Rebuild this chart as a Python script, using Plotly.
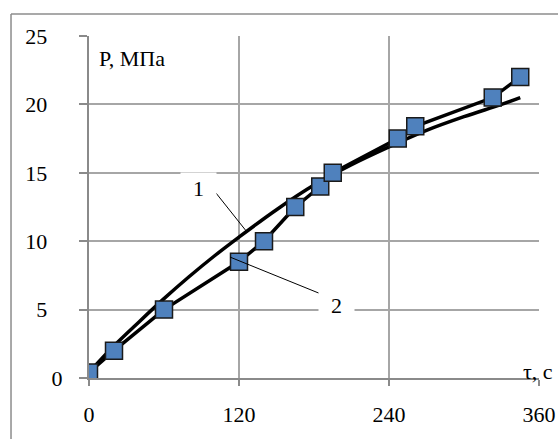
import plotly.graph_objects as go

# Curve 1 (smooth calculated curve)
t_curve = [0, 20, 40, 60, 80, 100, 120, 150, 180, 210, 240, 270, 300, 330, 345]
p_curve = [0.4, 2.35, 4.1, 5.8, 7.4, 8.9, 10.3, 12.3, 14.1, 15.6, 16.9, 18.1, 19.1, 20.0, 20.5]

# Curve 2 (experimental points)
t_exp = [0, 20, 60, 120, 140, 165, 185, 195, 247, 261, 323, 345]
p_exp = [0.4, 2, 5, 8.5, 10, 12.5, 14, 15, 17.5, 18.4, 20.5, 22]

x_ticks = [0, 120, 240, 360]
y_ticks = [0, 5, 10, 15, 20, 25]
y_ticktext = ["0", "5\u2007\u2009", "10\u2007\u2009", "15\u2007\u2009", "20\u2007\u2009", "25\u2007\u2009"]

FONT = "Liberation Serif, Times New Roman, Tinos, serif"
GRID = "#a6a6a6"
AXIS = "#8a8a8a"

fig = go.Figure()
fig.add_trace(go.Scatter(x=t_curve, y=p_curve, mode="lines", line=dict(color="black", width=3.5, shape="spline"),
                         showlegend=False, hoverinfo="skip"))
fig.add_trace(go.Scatter(x=t_exp, y=p_exp, mode="lines+markers", line=dict(color="black", width=3.5),
                         marker=dict(symbol="square", size=17, color="#4f81bd", line=dict(color="#1a1a1a", width=1.5)),
                         showlegend=False, hoverinfo="skip"))

# leader lines for curve labels
fig.add_shape(type="line", xref="x", yref="y", x0=101.6, y0=13.52, x1=126.4, y1=10.67, line=dict(color="black", width=1))
fig.add_shape(type="line", xref="x", yref="y", x0=112.8, y0=8.84, x1=184, y1=6.2, line=dict(color="black", width=1))

# outer frame (left and top edges; the rest lies outside the picture)
fig.add_shape(type="line", xref="paper", yref="paper", x0=-0.1733, y0=-0.4, x1=-0.1733, y1=1.0643,
              line=dict(color="#8c8c8c", width=1.5), layer="below")
fig.add_shape(type="line", xref="paper", yref="paper", x0=-0.1733, y0=1.0643, x1=1.5, y1=1.0643,
              line=dict(color="#8c8c8c", width=1.5), layer="below")

fig.add_annotation(x=87.6, y=13.87, xref="x", yref="y", text="1", showarrow=False, bgcolor="white",
                   borderpad=3, width=29, font=dict(family=FONT, size=22, color="black"))
fig.add_annotation(x=198, y=5.33, xref="x", yref="y", text="2", showarrow=False, bgcolor="white",
                   borderpad=3, width=29, font=dict(family=FONT, size=22, color="black"))
fig.add_annotation(x=0.0178, y=0.978, xref="paper", yref="paper", xanchor="left", yanchor="top",
                   text="P, МПа", showarrow=False, font=dict(family=FONT, size=22, color="black"))
fig.add_annotation(x=1.035, y=-0.024, xref="paper", yref="paper", xanchor="right", yanchor="bottom",
                   text="τ, c", showarrow=False, font=dict(family=FONT, size=22, color="black"))

fig.update_layout(
    width=558, height=439,
    margin=dict(l=89, r=19, t=36, b=61, pad=0, autoexpand=False),
    paper_bgcolor="white", plot_bgcolor="white",
    font=dict(family=FONT, size=22, color="black"),
    xaxis=dict(range=[0, 360], tickvals=x_ticks, ticktext=[str(v) for v in x_ticks],
               showgrid=True, gridcolor=GRID, gridwidth=1.5, zeroline=False,
               showline=True, linecolor=AXIS, linewidth=2, automargin=False,
               ticks="outside", ticklen=6, tickcolor=AXIS, tickwidth=1.5,
               ticklabelstandoff=10, tickfont=dict(family=FONT, size=22, color="black")),
    yaxis=dict(range=[0, 25], tickvals=y_ticks, ticktext=y_ticktext,
               showgrid=True, gridcolor=GRID, gridwidth=1.5, zeroline=False,
               showline=True, linecolor=AXIS, linewidth=2, automargin=False,
               ticks="outside", ticklen=8, tickcolor=AXIS, tickwidth=1.5,
               ticklabelstandoff=12, tickfont=dict(family=FONT, size=22, color="black")),
)

fig.write_html("out.html", config={"displayModeBar": False},
               post_script="document.body.style.margin='0';document.body.style.overflow='hidden';")
